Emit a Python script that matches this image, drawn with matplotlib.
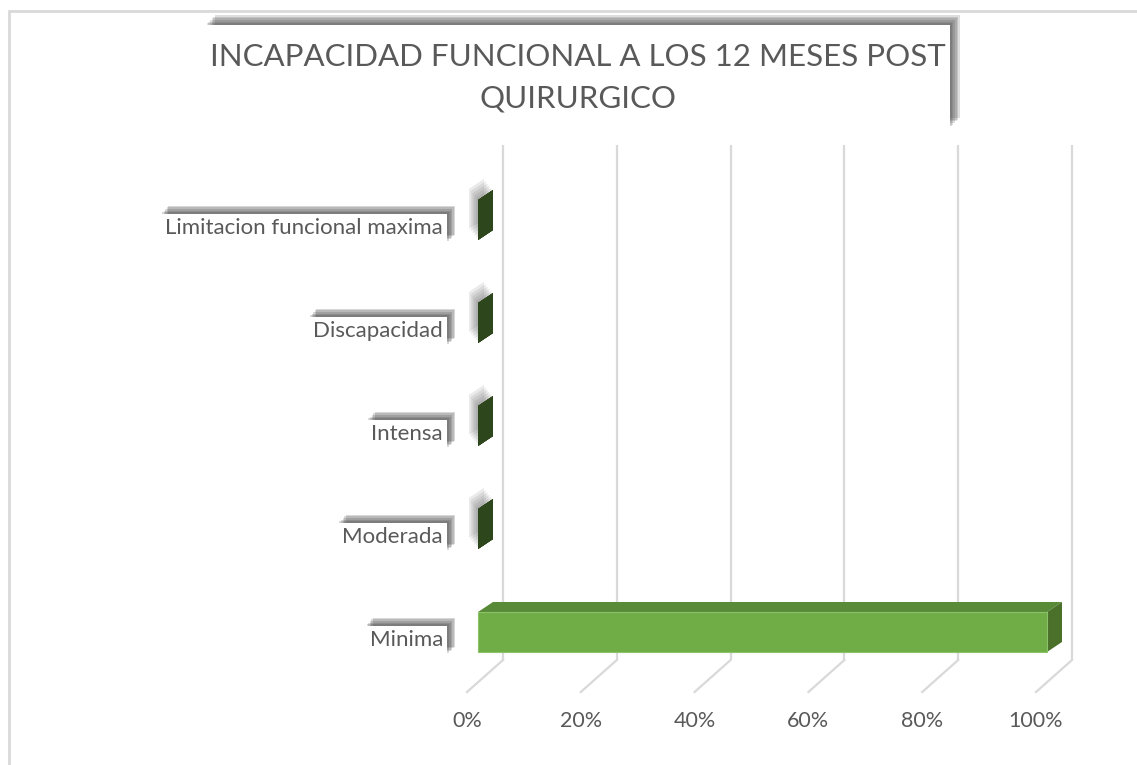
import numpy as np
import matplotlib.pyplot as plt
from matplotlib.patches import Polygon, Rectangle
from matplotlib import patheffects as pe

# Data
categorias = ['Minima', 'Moderada', 'Intensa', 'Discapacidad', 'Limitacion funcional maxima']
porcentajes = [100, 0, 0, 0, 0]
ticks = [0, 20, 40, 60, 80, 100]
tick_labels = ['0%', '20%', '40%', '60%', '80%', '100%']
titulo = 'INCAPACIDAD FUNCIONAL A LOS 12 MESES POST\nQUIRURGICO'

W, H = 1137, 765
px_per_pct = 5.69      # front plane scale
px_per_cat = 103.0
x0_px, y0_px = 478, 632  # front 0% / Minima centre (from top)

txt = '#595959'
grid_c = '#D9D9D9'
front_c = '#70AD47'
top_c = '#588A37'
side_c = '#4A7029'
zero_c = '#2E461B'

fig = plt.figure(figsize=(W / 100, H / 100), dpi=100)
ax = fig.add_axes([0, 0, 1, 1])
ax.set_xlim(-x0_px / px_per_pct, (W - x0_px) / px_per_pct)
ax.set_ylim(-(H - y0_px) / px_per_cat, y0_px / px_per_cat)
ax.axis('off')

def dx(p):
    return p / px_per_pct

def dy(p):
    return p / px_per_cat

def soft_shadow(n=5, step=1.1, a=0.2):
    # stacked offsets to fake a blurred shadow going up-right
    return [pe.withSimplePatchShadow(offset=(step * k, step * k), shadow_rgbFace='#404040', alpha=a)
            for k in range(n, 0, -1)] + [pe.Normal()]

# outer chart border
fig.patches.append(Rectangle((9 / W, -0.05), 1.2, (H - 11) / H + 0.05, transform=fig.transFigure,
                             fill=False, edgecolor=grid_c, lw=2, zorder=0))

# back wall gridlines and floor lines
back_dx = dx(25)
grid_top = dy(632 - 145)
grid_bot = -dy(660 - 632)
floor_fx, floor_fy = dx(-11), -dy(692 - 632)
for t, lab in zip(ticks, tick_labels):
    xb = t + back_dx
    ax.plot([xb, xb], [grid_bot, grid_top], color=grid_c, lw=1.6, zorder=1, solid_capstyle='butt')
    ax.plot([xb, t + floor_fx], [grid_bot, floor_fy], color=grid_c, lw=1.6, zorder=1)
    ax.text(t + floor_fx, -dy(721 - 632), lab, ha='center', va='center', fontsize=15.5,
            color=txt, family='Lato')

# bars with depth
h = dy(40)
ddx, ddy = dx(15), dy(10)
for i, (cat, v) in enumerate(zip(categorias, porcentajes)):
    yb, yt = i - h / 2, i + h / 2
    if v > 0:
        top = Polygon([(0, yt), (v, yt), (v + ddx, yt + ddy), (ddx, yt + ddy)], closed=True,
                      facecolor=top_c, edgecolor='none', zorder=3)
        side = Polygon([(v, yb), (v + ddx, yb + ddy), (v + ddx, yt + ddy), (v, yt)], closed=True,
                       facecolor=side_c, edgecolor='none', zorder=3)
        ax.add_patch(top)
        ax.add_patch(side)
        ax.barh(i, v, height=h, left=0, color=front_c, edgecolor='#8CC26A', lw=0.8, zorder=4)
    else:
        face = Polygon([(0, yb), (ddx, yb + ddy), (ddx, yt + ddy), (0, yt)], closed=True,
                       facecolor=zero_c, edgecolor='none', zorder=3)
        face.set_path_effects([pe.withSimplePatchShadow(offset=(-1.3 * k, 1.6 * k), shadow_rgbFace='#606060',
                                                        alpha=0.13) for k in (5, 4, 3, 2, 1)] + [pe.Normal()])
        ax.add_patch(face)
    lab = ax.text(dx(443 - 478), i - dy(8), cat, ha='right', va='center', fontsize=16,
                  color=txt, family='Lato', zorder=5,
                  bbox=dict(boxstyle='square,pad=0.2', facecolor='white', edgecolor='none'))
    lab.get_bbox_patch().set_path_effects(soft_shadow())

# title box with shadow
box = Rectangle((205 / W, 1 - 128 / H), (950 - 205) / W, (128 - 25) / H, transform=fig.transFigure,
                facecolor='white', edgecolor='none', zorder=2)
box.set_path_effects(soft_shadow(n=6, step=1.2, a=0.17))
fig.patches.append(box)
fig.text(578 / W, 1 - 78 / H, titulo, ha='center', va='center', fontsize=22.5,
         color=txt, family='Lato', linespacing=1.6, zorder=3)

fig.savefig('out.png', dpi=100, facecolor='white')
